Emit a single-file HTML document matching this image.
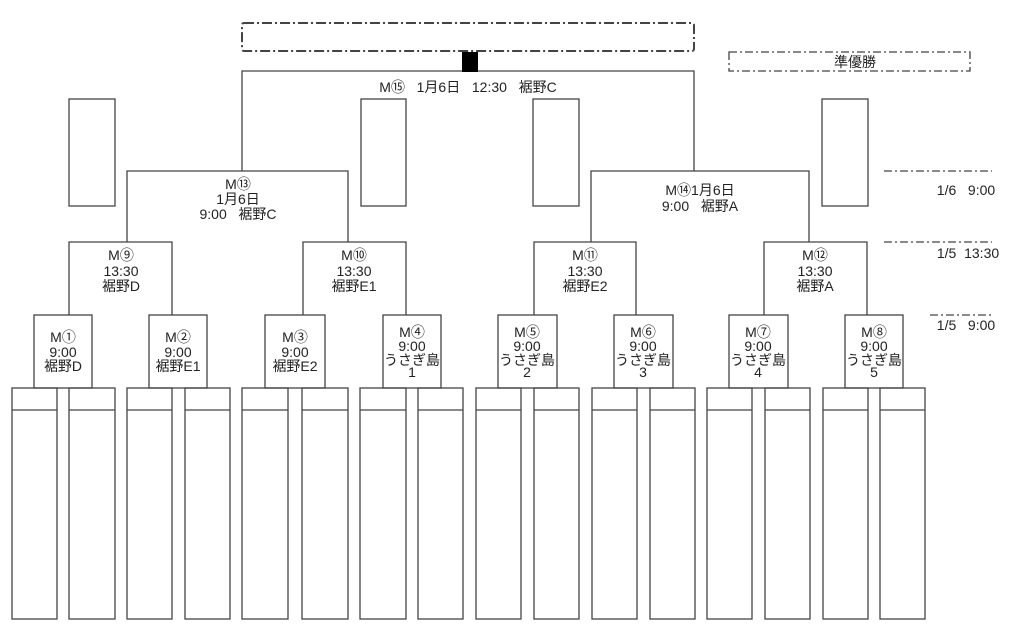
<!DOCTYPE html>
<html><head><meta charset="utf-8"><style>
html,body{margin:0;padding:0;background:#fff;}
svg{display:block;}
text{font-family:"Liberation Sans","Noto Sans CJK JP",sans-serif;fill:#222;font-size:14px;text-anchor:middle;}
</style></head><body>
<svg width="1024" height="631" viewBox="0 0 1024 631" xmlns="http://www.w3.org/2000/svg">
<g fill="none" stroke="#444" stroke-width="1.3">
<rect x="242" y="23" width="452" height="28" stroke-width="2" stroke-dasharray="10,3,2,3" rx="2"/>
<rect x="729" y="52" width="241" height="19" stroke-dasharray="8,3,2,3"/>
<polyline points="242,171 242,71 694,71 694,171"/>
<polyline points="127,242 127,171 348,171 348,242"/>
<polyline points="591,242 591,171 809,171 809,242"/>
<polyline points="69,315 69,242 172,242 172,315"/>
<polyline points="303,315 303,242 406,242 406,315"/>
<polyline points="534,315 534,242 636,242 636,315"/>
<polyline points="764,315 764,242 867,242 867,315"/>
<rect x="69" y="99" width="46" height="107"/>
<rect x="361" y="99" width="45" height="107"/>
<rect x="533" y="99" width="46" height="107"/>
<rect x="822" y="99" width="46" height="107"/>
<rect x="34" y="315" width="58" height="73"/>
<rect x="149" y="315" width="58" height="73"/>
<rect x="265" y="315" width="60" height="73"/>
<rect x="383" y="315" width="58" height="73"/>
<rect x="498" y="315" width="59" height="73"/>
<rect x="614" y="315" width="59" height="73"/>
<rect x="729" y="315" width="59" height="73"/>
<rect x="845" y="315" width="58" height="73"/>
<g>
<rect x="12" y="388" width="45" height="231"/><rect x="69" y="388" width="46" height="231"/>
<rect x="127" y="388" width="45" height="231"/><rect x="185" y="388" width="45" height="231"/>
<rect x="242" y="388" width="46" height="231"/><rect x="302" y="388" width="46" height="231"/>
<rect x="360" y="388" width="46" height="231"/><rect x="418" y="388" width="45" height="231"/>
<rect x="476" y="388" width="45" height="231"/><rect x="534" y="388" width="45" height="231"/>
<rect x="592" y="388" width="45" height="231"/><rect x="650" y="388" width="45" height="231"/>
<rect x="707" y="388" width="45" height="231"/><rect x="765" y="388" width="45" height="231"/>
<rect x="823" y="388" width="45" height="231"/><rect x="880" y="388" width="45" height="231"/>
</g>
<path d="M12 410H57M69 410H115M127 410H172M185 410H230M242 410H288M302 410H348M360 410H406M418 410H463M476 410H521M534 410H579M592 410H637M650 410H695M707 410H752M765 410H810M823 410H868M880 410H925"/>
<path d="M884 171H992M884 242H992M930 315H993" stroke-dasharray="8,3,2,3"/>
</g>
<rect x="462" y="52" width="16" height="20" fill="#000"/>
<text x="855" y="67" font-size="15">準優勝</text>
<text x="468" y="92" font-size="16" xml:space="preserve">M⑮   1月6日   12:30   裾野C</text>
<text x="238" y="189">M⑬</text>
<text x="238" y="204">1月6日</text>
<text x="238" y="219" xml:space="preserve">9:00   裾野C</text>
<text x="700" y="195">M⑭1月6日</text>
<text x="700" y="211" xml:space="preserve">9:00   裾野A</text>
<text x="121" y="260">M⑨</text><text x="121" y="276">13:30</text><text x="121" y="291">裾野D</text>
<text x="354" y="260">M⑩</text><text x="354" y="276">13:30</text><text x="354" y="291">裾野E1</text>
<text x="585" y="260">M⑪</text><text x="585" y="276">13:30</text><text x="585" y="291">裾野E2</text>
<text x="815" y="260">M⑫</text><text x="815" y="276">13:30</text><text x="815" y="291">裾野A</text>
<text x="63" y="342">M①</text><text x="63" y="357">9:00</text><text x="63" y="371">裾野D</text>
<text x="178" y="342">M②</text><text x="178" y="357">9:00</text><text x="178" y="371">裾野E1</text>
<text x="295" y="342">M③</text><text x="295" y="357">9:00</text><text x="295" y="371">裾野E2</text>
<g>
<text x="412" y="337">M④</text><text x="412" y="351">9:00</text><text x="412" y="365" font-size="13">うさぎ島</text><text x="412" y="377" font-size="13">1</text>
<text x="527" y="337">M⑤</text><text x="527" y="351">9:00</text><text x="527" y="365" font-size="13">うさぎ島</text><text x="527" y="377" font-size="13">2</text>
<text x="643" y="337">M⑥</text><text x="643" y="351">9:00</text><text x="643" y="365" font-size="13">うさぎ島</text><text x="643" y="377" font-size="13">3</text>
<text x="758" y="337">M⑦</text><text x="758" y="351">9:00</text><text x="758" y="365" font-size="13">うさぎ島</text><text x="758" y="377" font-size="13">4</text>
<text x="874" y="337">M⑧</text><text x="874" y="351">9:00</text><text x="874" y="365" font-size="13">うさぎ島</text><text x="874" y="377" font-size="13">5</text>
</g>
<text x="966" y="195" font-size="15" xml:space="preserve">1/6   9:00</text>
<text x="968" y="258" font-size="15" xml:space="preserve">1/5  13:30</text>
<text x="966" y="330" font-size="15" xml:space="preserve">1/5   9:00</text>
</svg>
</body></html>
